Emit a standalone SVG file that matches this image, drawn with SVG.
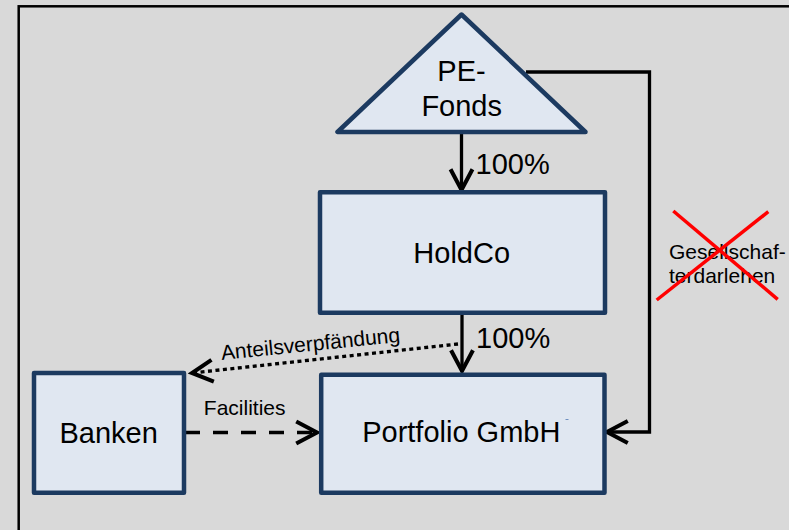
<svg xmlns="http://www.w3.org/2000/svg" width="789" height="530" viewBox="0 0 789 530">
  <defs>
    <style>
      .node { fill: #e0e7f1; stroke: #1c3a60; stroke-width: 4.5; stroke-linejoin: round; }
      .big { font-family: "Liberation Sans", Arial, sans-serif; font-size: 29px; fill: #000; }
      .small { font-family: "Liberation Sans", Arial, sans-serif; font-size: 21px; fill: #000; }
      .conn { fill: none; stroke: #000; stroke-width: 3.3; }
      .cross { stroke: #ff0000; stroke-width: 3.5; }
    </style>
    <marker id="arrow" markerUnits="userSpaceOnUse" markerWidth="30" markerHeight="30" viewBox="-22 -12 26 24" refX="0" refY="0" orient="auto">
      <path d="M-18,-9.5 L0,0 L-18,9.5" fill="none" stroke="#000" stroke-width="3.5" stroke-linejoin="miter"/>
    </marker>
  </defs>

  <rect x="0" y="0" width="789" height="530" fill="#d9d9d9"/>
  <rect x="18.7" y="6.3" width="800" height="600" fill="none" stroke="#000" stroke-width="2.5"/>

  <g id="connectors">
    <path class="conn" d="M461.5,133 L461.5,190" marker-end="url(#arrow)"/>
    <path class="conn" d="M462,314 L462,371" marker-end="url(#arrow)"/>
    <path class="conn" d="M526,72 L649.5,72 L649.5,432 L607,432" marker-end="url(#arrow)"/>
    <path class="conn" d="M458,344 L192,373" stroke-width="4" stroke-dasharray="4 3.5" marker-end="url(#arrow)"/>
    <path class="conn" d="M185,432.5 L317,432.5" stroke-width="4" stroke-dasharray="15 13" marker-end="url(#arrow)"/>
    <text class="big" x="475.6" y="174.3">100%</text>
    <text class="big" x="476" y="348.3">100%</text>
    <text class="small" x="221.7" y="360" transform="rotate(-5.8 221.7 360)">Anteilsverpfändung</text>
    <text class="small" x="244.7" y="415" text-anchor="middle">Facilities</text>
    <g id="gesellschafterdarlehen">
      <text class="small" x="669" y="259.3">Gesellschaf-</text>
      <text class="small" x="669" y="283.3">terdarlehen</text>
      <line class="cross" x1="673.3" y1="211" x2="777.7" y2="299.3"/>
      <line class="cross" x1="768.3" y1="211.7" x2="656.7" y2="300"/>
    </g>
  </g>

  <g id="pe-fonds">
    <polygon class="node" points="461.5,14.5 337.5,132 585.5,132"/>
    <text class="big" x="461.5" y="81" text-anchor="middle">PE-</text>
    <text class="big" x="461.7" y="115.7" text-anchor="middle">Fonds</text>
  </g>

  <g id="holdco">
    <rect class="node" x="320" y="192.2" width="285" height="120.6"/>
    <text class="big" x="461.7" y="262.7" text-anchor="middle">HoldCo</text>
  </g>

  <g id="portfolio">
    <rect class="node" x="321.2" y="374.8" width="283.3" height="118"/>
    <text class="big" x="461.3" y="442.3" text-anchor="middle">Portfolio GmbH</text>
    <rect x="565.5" y="419" width="3" height="1" fill="#7090c0"/>
  </g>

  <g id="banken">
    <rect class="node" x="34" y="372.9" width="150" height="119.9"/>
    <text class="big" x="108.6" y="442.7" text-anchor="middle">Banken</text>
  </g>
</svg>
